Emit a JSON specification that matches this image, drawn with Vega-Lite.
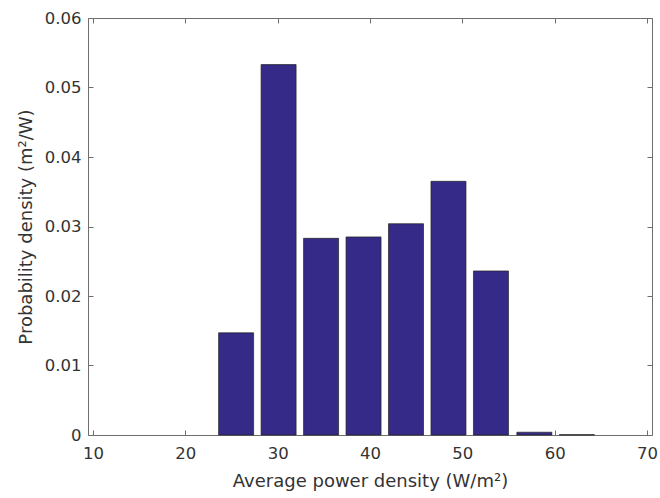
{
  "$schema": "https://vega.github.io/schema/vega-lite/v6.json",
  "width": 564,
  "height": 417,
  "autosize": "none",
  "padding": {"left": 88, "top": 18, "right": 8, "bottom": 63},
  "background": "white",
  "config": {
    "view": {"stroke": null},
    "font": "DejaVu Sans",
    "axis": {
      "grid": false,
      "domainColor": "#6e6e6e",
      "domainWidth": 1,
      "tickColor": "#6e6e6e",
      "tickSize": -5,
      "labelFont": "DejaVu Sans",
      "labelFontSize": 16.5,
      "labelColor": "#333333",
      "titleFont": "DejaVu Sans",
      "titleFontSize": 18,
      "titleFontWeight": "normal",
      "titleColor": "#333333"
    }
  },
  "data": {
    "values": [
      {"power": 25.5, "density": 0.0147},
      {"power": 30.1, "density": 0.0533},
      {"power": 34.7, "density": 0.0283},
      {"power": 39.3, "density": 0.0285},
      {"power": 43.9, "density": 0.0304},
      {"power": 48.5, "density": 0.0365},
      {"power": 53.1, "density": 0.0236},
      {"power": 57.8, "density": 0.0004},
      {"power": 62.4, "density": 0.00005}
    ]
  },
  "encoding": {
    "x": {"field": "power", "type": "quantitative", "scale": {"domain": [10, 70], "nice": false, "zero": false}},
    "y": {"field": "density", "type": "quantitative", "scale": {"domain": [0, 0.06], "nice": false}}
  },
  "layer": [
    {
      "mark": {"type": "bar", "size": 35, "color": "#352A87", "stroke": "#222222", "strokeWidth": 0.7},
      "encoding": {
        "x": {"field": "power", "type": "quantitative",
          "axis": {"orient": "bottom", "values": [10, 20, 30, 40, 50, 60, 70], "title": "Average power density (W/m²)", "labelPadding": 15, "titlePadding": 11}},
        "y": {"field": "density", "type": "quantitative",
          "axis": {"orient": "left", "values": [0, 0.01, 0.02, 0.03, 0.04, 0.05, 0.06], "format": ".2~f", "title": "Probability density (m²/W)", "labelPadding": 12, "titlePadding": 9}}
      }
    },
    {
      "mark": {"type": "bar", "opacity": 0},
      "encoding": {
        "x": {"field": "power", "type": "quantitative",
          "axis": {"orient": "top", "values": [10, 20, 30, 40, 50, 60, 70], "labels": false, "title": null}},
        "y": {"field": "density", "type": "quantitative",
          "axis": {"orient": "right", "values": [0, 0.01, 0.02, 0.03, 0.04, 0.05, 0.06], "labels": false, "title": null}}
      }
    }
  ],
  "resolve": {"axis": {"x": "independent", "y": "independent"}}
}
